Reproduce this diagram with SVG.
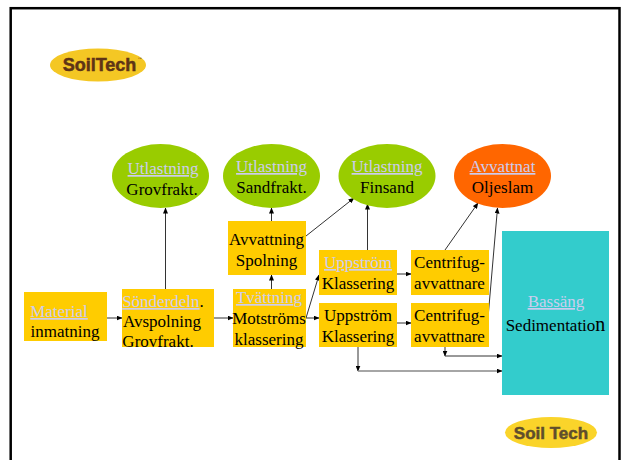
<svg xmlns="http://www.w3.org/2000/svg" width="627" height="460" viewBox="0 0 627 460">
<style>
text{font-family:"Liberation Serif","Times New Roman",serif;font-size:17px;fill:#000;text-anchor:middle}
.l{fill:#ccccee;text-decoration:underline}
.b{fill:#ffcc00}
.g{fill:#99cc00}
.c{fill:none;stroke:#333;stroke-width:1}
.logo{font-family:"Liberation Sans",Arial,sans-serif;font-weight:bold;fill:#5e3416;stroke:#5e3416;stroke-width:.5px;font-size:18px}
</style>
<defs>
<marker id="a" markerWidth="6" markerHeight="5" refX="5.500" refY="2.500" orient="auto" markerUnits="userSpaceOnUse"><path d="M0 0L6 2.500L0 5z" fill="#000"/></marker>
<clipPath id="s"><rect x="122" y="289" width="92" height="58"/></clipPath>
</defs>
<rect x="10.700" y="8.200" width="608.800" height="470" fill="#fff" stroke="#000" stroke-width="2.500"/>
<g id="logo1"><ellipse cx="98" cy="65" rx="48" ry="16.500" fill="#f4c724"/><text class="logo" x="99.500" y="71">SoilTech</text><text x="139.800" y="60" style="font-size:4px;fill:#5e3416">™</text></g>
<g id="logo2"><ellipse cx="551" cy="432.500" rx="46" ry="15.500" fill="#fad42a"/><text class="logo" x="551" y="438.500" style="fill:#5f4e2c;stroke:#5f4e2c;font-size:17px">Soil Tech</text></g>
<g id="connectors">
<path class="c" marker-end="url(#a)" d="M107 318H122"/>
<path class="c" marker-end="url(#a)" d="M214 318H233"/>
<path class="c" marker-end="url(#a)" d="M165.500 289V208"/>
<path class="c" marker-end="url(#a)" d="M271.500 289V275"/>
<path class="c" marker-end="url(#a)" d="M271.500 221V208"/>
<path class="c" marker-end="url(#a)" d="M306 236L354 198"/>
<path class="c" marker-end="url(#a)" d="M367.500 250V204"/>
<path class="c" marker-end="url(#a)" d="M306 318L319 275"/>
<path class="c" marker-end="url(#a)" d="M306 318H319"/>
<path class="c" marker-end="url(#a)" d="M397 274H411"/>
<path class="c" marker-end="url(#a)" d="M397 323H411"/>
<path class="c" marker-end="url(#a)" d="M445 250L478 203"/>
<path class="c" marker-end="url(#a)" d="M488 318L497.500 208"/>
<path class="c" marker-end="url(#a)" d="M445 347V356"/>
<path class="c" marker-end="url(#a)" d="M445 356H502"/>
<path class="c" marker-end="url(#a)" d="M358 347V371"/>
<path class="c" marker-end="url(#a)" d="M358 371H502" style="stroke:#888;stroke-width:1.500"/>
</g>
<g id="material"><rect class="b" x="24" y="292" width="83" height="49"/><text class="l" x="59" y="317">Material</text><text x="65" y="337">inmatning</text></g>
<g id="sonderdeln"><rect class="b" x="122" y="289" width="92" height="58"/><g clip-path="url(#s)"><text x="163" y="307"><tspan class="l">Sönderdeln</tspan>.</text><text x="162" y="327">Avspolning</text><text x="158" y="347">Grovfrakt.</text></g></g>
<g id="tvattning"><rect class="b" x="233" y="289" width="73" height="58"/><text class="l" x="269" y="303">Tvättning</text><text x="269" y="324">Motströms</text><text x="269" y="345">klassering</text></g>
<g id="avvattning"><rect class="b" x="228" y="221" width="78" height="54"/><text x="266.500" y="245">Avvattning</text><text x="266.500" y="266">Spolning</text></g>
<g id="uppstrom1"><rect class="b" x="319" y="250" width="78" height="45"/><text class="l" x="358" y="268">Uppström</text><text x="358" y="289">Klassering</text></g>
<g id="uppstrom2"><rect class="b" x="319" y="303" width="78" height="44"/><text x="358" y="321">Uppström</text><text x="358" y="342">Klassering</text></g>
<g id="centrifug1"><rect class="b" x="411" y="250" width="78" height="45"/><text x="449.500" y="268">Centrifug-</text><text x="449.500" y="289">avvattnare</text></g>
<g id="centrifug2"><rect class="b" x="411" y="303" width="78" height="44"/><text x="449.500" y="321">Centrifug-</text><text x="449.500" y="342">avvattnare</text></g>
<g id="bassang"><rect x="502" y="231" width="107" height="164" fill="#33cccc"/><text class="l" x="556" y="307">Bassäng</text><text x="555.500" y="331">Sedimentatio<tspan style="font-size:20px">n</tspan></text></g>
<g id="utlastning1"><ellipse class="g" cx="160.500" cy="176" rx="48.500" ry="32"/><text class="l" x="163" y="174">Utlastning</text><text x="162" y="195">Grovfrakt.</text></g>
<g id="utlastning2"><ellipse class="g" cx="271.500" cy="176" rx="48.500" ry="32"/><text class="l" x="271.500" y="172">Utlastning</text><text x="271.500" y="193">Sandfrakt.</text></g>
<g id="utlastning3"><ellipse class="g" cx="387" cy="176" rx="48.500" ry="32"/><text class="l" x="387" y="172">Utlastning</text><text x="387" y="193">Finsand</text></g>
<g id="avvattnat"><ellipse cx="502.500" cy="176" rx="48.500" ry="32" fill="#ff6600"/><text class="l" x="502.500" y="172">Avvattnat</text><text x="502.500" y="193">Oljeslam</text></g>
</svg>
